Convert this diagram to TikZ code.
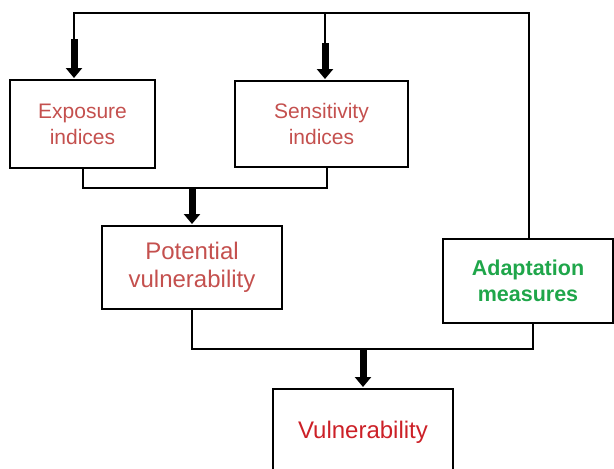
\documentclass[tikz,border=0pt]{standalone}
\usepackage{fontspec}
\setmainfont{Liberation Sans}
\usetikzlibrary{arrows.meta}
\definecolor{softred}{HTML}{C4504E}
\definecolor{vred}{HTML}{CC2027}
\definecolor{agreen}{HTML}{1FA64A}
\begin{document}
\begin{tikzpicture}[x=1pt,y=-1pt,
  box/.style={draw,line width=2pt,align=center,inner sep=0pt,outer sep=0pt},
  smallfont/.style={font=\fontsize{21}{26}\selectfont},
  link/.style={line width=2pt},
  bigarrow/.style={line width=7pt,-{Triangle[width=16pt,length=10pt]},shorten >=2pt}]
\clip (0,0) rectangle (614,469);
\useasboundingbox (0,0) rectangle (614,469);
\node[box,smallfont,text=softred,minimum width=145pt,minimum height=88pt] (expo) at (82.5,124) {Exposure\\indices};
\node[box,smallfont,text=softred,minimum width=173pt,minimum height=86pt] (sens) at (321.5,124) {Sensitivity\\indices};
\node[box,font=\fontsize{24}{28}\selectfont,text=softred,minimum width=180pt,minimum height=83pt] (pot) at (192,267.5) {Potential\\vulnerability};
\node[box,font=\bfseries\fontsize{21.5}{26}\selectfont,text=agreen,minimum width=170pt,minimum height=84pt] (adap) at (528,281) {Adaptation\\measures};
\node[box,font=\fontsize{24}{28}\selectfont,text=vred,minimum width=180pt,minimum height=86pt] (vuln) at (363,432) {Vulnerability};
% top feedback line
\coordinate (tl) at (74,13);
\coordinate (tr) at (528.6,13);
\coordinate (ea) at (74,39);
\coordinate (st) at (325,13);
\coordinate (sa) at (325,43);
\draw[link] (ea) -- (tl) -- (tr) -- (adap.north -| tr);
\draw[bigarrow] (ea) -- (expo.north -| ea);
\draw[link] (st) -- (sa);
\draw[bigarrow] (sa) -- (sens.north -| sa);
% exposure + sensitivity -> potential
\coordinate (sb) at (327,188);
\coordinate (j1) at (192,188);
\draw[link] (expo.south) |- (sb) -- (sens.south -| sb);
\draw[bigarrow] (j1) -- (pot.north);
% potential + adaptation -> vulnerability
\coordinate (ab) at (533,349);
\coordinate (j2) at (363,349);
\draw[link] (pot.south) |- (ab) -- (adap.south -| ab);
\draw[bigarrow] (j2) -- (vuln.north);
\end{tikzpicture}
\end{document}
